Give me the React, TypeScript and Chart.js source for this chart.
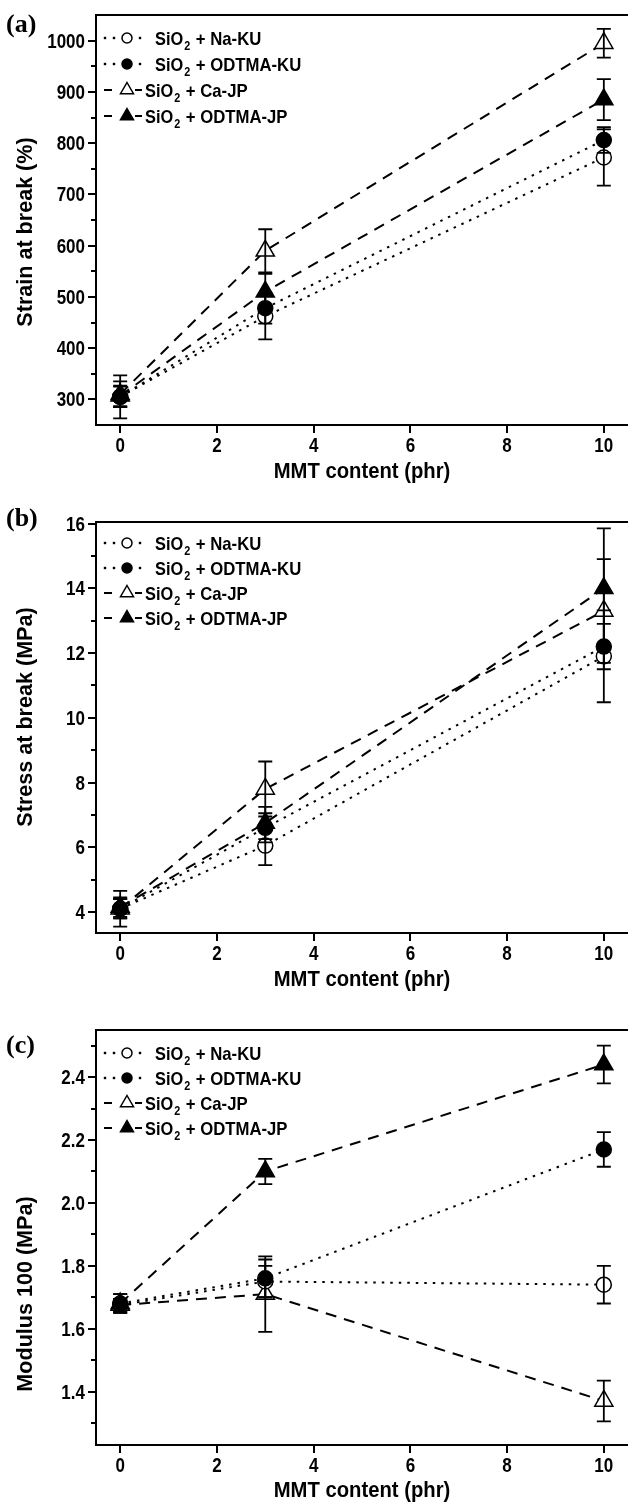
import React, { useEffect, useRef } from 'react';
import { Chart, registerables } from 'chart.js';

Chart.register(...registerables);

// ---------------- data ----------------
const mmtContent = [0, 3, 10];
const seriesNames = ['Na-KU', 'ODTMA-KU', 'Ca-JP', 'ODTMA-JP'];
const xTickValues = [0, 2, 4, 6, 8, 10];
const xTickLabels = ['0', '2', '4', '6', '8', '10'];
const xTitle = 'MMT content (phr)';

// (a) Strain at break (%)
const strainNaKU = [305, 462, 772];
const strainNaKUErr = [42, 45, 55];
const strainOdtmaKU = [305, 478, 806];
const strainOdtmaKUErr = [20, 30, 25];
const strainCaJP = [310, 590, 995];
const strainCaJPErr = [25, 42, 28];
const strainOdtmaJP = [307, 510, 885];
const strainOdtmaJPErr = [20, 35, 40];
const strainTicks = [300, 400, 500, 600, 700, 800, 900, 1000];
const strainTickLabels = ['300', '400', '500', '600', '700', '800', '900', '1000'];
const strainMinorTicks = [350, 450, 550, 650, 750, 850, 950];
const strainTitle = 'Strain at break (%)';

// (b) Stress at break (MPa)
const stressNaKU = [4.1, 6.05, 11.9];
const stressNaKUErr = [0.55, 0.6, 1.42];
const stressOdtmaKU = [4.1, 6.6, 12.2];
const stressOdtmaKUErr = [0.3, 0.45, 0.7];
const stressCaJP = [4.1, 7.8, 13.3];
const stressCaJPErr = [0.3, 0.85, 1.6];
const stressOdtmaJP = [4.15, 6.75, 14.0];
const stressOdtmaJPErr = [0.3, 0.5, 1.85];
const stressTicks = [4, 6, 8, 10, 12, 14, 16];
const stressTickLabels = ['4', '6', '8', '10', '12', '14', '16'];
const stressMinorTicks = [5, 7, 9, 11, 13, 15];
const stressTitle = 'Stress at break (MPa)';

// (c) Modulus 100 (MPa)
const modNaKU = [1.675, 1.75, 1.74];
const modNaKUErr = [0.02, 0.05, 0.06];
const modOdtmaKU = [1.68, 1.76, 2.17];
const modOdtmaKUErr = [0.03, 0.06, 0.055];
const modCaJP = [1.675, 1.71, 1.37];
const modCaJPErr = [0.02, 0.12, 0.065];
const modOdtmaJP = [1.68, 2.1, 2.44];
const modOdtmaJPErr = [0.03, 0.04, 0.06];
const modTicks = [1.4, 1.6, 1.8, 2.0, 2.2, 2.4];
const modTickLabels = ['1.4', '1.6', '1.8', '2.0', '2.2', '2.4'];
const modMinorTicks = [1.3, 1.5, 1.7, 1.9, 2.1, 2.3, 2.5];
const modTitle = 'Modulus 100 (MPa)';

// ---------------- styles ----------------
const FONT = '"Liberation Sans", Arial, sans-serif';
const SERIF = '"Liberation Serif", "Times New Roman", serif';
const DOT = [2.5, 6];
const DASH = [11, 8];
const STY = [
  { dash: DOT, shape: 'circle', open: true, order: 2 },
  { dash: DOT, shape: 'circle', open: false, order: 1 },
  { dash: DASH, shape: 'triangle', open: true, order: 3 },
  { dash: DASH, shape: 'triangle', open: false, order: 0 },
];

type Series = { values: number[]; errors: number[] };
type PanelCfg = {
  tag: string;
  top: number;
  height: number;
  padTop: number;
  xAxisHeight: number;
  min: number;
  max: number;
  ticks: number[];
  tickLabels: string[];
  minor: number[];
  yTitle: string;
  yTitleY: number;
  tagY: number;
  xTitleOffset: number;
  legendY0: number;
  legendStep: number;
  series: Series[];
};

const panels: PanelCfg[] = [
  {
    tag: '(a)', top: 0, height: 500, padTop: 15, xAxisHeight: 75,
    min: 250, max: 1050, ticks: strainTicks, tickLabels: strainTickLabels, minor: strainMinorTicks,
    yTitle: strainTitle, yTitleY: 232, tagY: 25, xTitleOffset: 47, legendY0: 23, legendStep: 26,
    series: [
      { values: strainNaKU, errors: strainNaKUErr },
      { values: strainOdtmaKU, errors: strainOdtmaKUErr },
      { values: strainCaJP, errors: strainCaJPErr },
      { values: strainOdtmaJP, errors: strainOdtmaJPErr },
    ],
  },
  {
    tag: '(b)', top: 500, height: 505, padTop: 22, xAxisHeight: 72,
    min: 3.35, max: 16.05, ticks: stressTicks, tickLabels: stressTickLabels, minor: stressMinorTicks,
    yTitle: stressTitle, yTitleY: 217, tagY: 19, xTitleOffset: 47, legendY0: 21, legendStep: 25,
    series: [
      { values: stressNaKU, errors: stressNaKUErr },
      { values: stressOdtmaKU, errors: stressOdtmaKUErr },
      { values: stressCaJP, errors: stressCaJPErr },
      { values: stressOdtmaJP, errors: stressOdtmaJPErr },
    ],
  },
  {
    tag: '(c)', top: 1005, height: 497, padTop: 25, xAxisHeight: 57,
    min: 1.23, max: 2.55, ticks: modTicks, tickLabels: modTickLabels, minor: modMinorTicks,
    yTitle: modTitle, yTitleY: 289, tagY: 41, xTitleOffset: 46, legendY0: 23, legendStep: 25,
    series: [
      { values: modNaKU, errors: modNaKUErr },
      { values: modOdtmaKU, errors: modOdtmaKUErr },
      { values: modCaJP, errors: modCaJPErr },
      { values: modOdtmaJP, errors: modOdtmaJPErr },
    ],
  },
];

// draws horizontally condensed text
function condText(
  ctx: CanvasRenderingContext2D,
  text: string,
  x: number,
  y: number,
  font: string,
  sx: number,
  align: CanvasTextAlign,
  baseline: CanvasTextBaseline = 'alphabetic',
) {
  ctx.save();
  ctx.font = font;
  ctx.textAlign = align;
  ctx.textBaseline = baseline;
  ctx.translate(x, y);
  ctx.scale(sx, 1);
  ctx.fillText(text, 0, 0);
  const w = ctx.measureText(text).width * sx;
  ctx.restore();
  return w;
}

function drawMarker(ctx: CanvasRenderingContext2D, shape: string, open: boolean, x: number, y: number, r: number) {
  ctx.save();
  ctx.setLineDash([]);
  ctx.lineWidth = 1.5;
  ctx.strokeStyle = '#000';
  ctx.fillStyle = open ? '#fff' : '#000';
  ctx.beginPath();
  if (shape === 'circle') {
    ctx.arc(x, y, r, 0, Math.PI * 2);
  } else {
    ctx.moveTo(x, y - r);
    ctx.lineTo(x + 0.866 * r, y + 0.5 * r);
    ctx.lineTo(x - 0.866 * r, y + 0.5 * r);
    ctx.closePath();
  }
  ctx.fill();
  ctx.stroke();
  ctx.restore();
}

function makeDeco(cfg: PanelCfg) {
  return {
    id: 'deco',
    afterDatasetsDraw(chart: any) {
      const { ctx } = chart;
      const xs = chart.scales.x;
      const ys = chart.scales.y;
      ctx.save();
      ctx.strokeStyle = '#000';
      ctx.lineWidth = 1.8;
      ctx.setLineDash([]);
      cfg.series.forEach((s) => {
        s.values.forEach((v, j) => {
          const e = s.errors[j];
          const px = xs.getPixelForValue(mmtContent[j]);
          const p1 = ys.getPixelForValue(v + e);
          const p2 = ys.getPixelForValue(v - e);
          ctx.beginPath();
          ctx.moveTo(px, p1);
          ctx.lineTo(px, p2);
          ctx.moveTo(px - 7, p1);
          ctx.lineTo(px + 7, p1);
          ctx.moveTo(px - 7, p2);
          ctx.lineTo(px + 7, p2);
          ctx.stroke();
        });
      });
      ctx.restore();
    },
    afterDraw(chart: any) {
      const { ctx, chartArea } = chart;
      const xs = chart.scales.x;
      const ys = chart.scales.y;
      ctx.save();
      ctx.strokeStyle = '#000';
      ctx.fillStyle = '#000';
      ctx.setLineDash([]);
      ctx.lineWidth = 2;
      // top border
      ctx.beginPath();
      ctx.moveTo(chartArea.left - 1, chartArea.top);
      ctx.lineTo(chart.width, chartArea.top);
      ctx.stroke();
      // tick marks
      ctx.beginPath();
      cfg.ticks.forEach((v) => {
        const py = Math.round(ys.getPixelForValue(v));
        ctx.moveTo(chartArea.left - 8, py);
        ctx.lineTo(chartArea.left, py);
      });
      cfg.minor.forEach((v) => {
        const py = Math.round(ys.getPixelForValue(v));
        ctx.moveTo(chartArea.left - 5, py);
        ctx.lineTo(chartArea.left, py);
      });
      xTickValues.forEach((v) => {
        const px = Math.round(xs.getPixelForValue(v));
        ctx.moveTo(px, chartArea.bottom);
        ctx.lineTo(px, chartArea.bottom + 8);
      });
      ctx.stroke();

      // tick labels
      const tickFont = `bold 20px ${FONT}`;
      cfg.ticks.forEach((v, k) => {
        const py = ys.getPixelForValue(v);
        condText(ctx, cfg.tickLabels[k], 85, py + 7, tickFont, 0.85, 'right');
      });
      xTickValues.forEach((v, k) => {
        const px = xs.getPixelForValue(v);
        condText(ctx, xTickLabels[k], px, chartArea.bottom + 27, tickFont, 0.85, 'center');
      });

      // axis titles
      const titleFont = `bold 22px ${FONT}`;
      condText(ctx, xTitle, (chartArea.left + chartArea.right) / 2, chartArea.bottom + cfg.xTitleOffset, titleFont, 0.92, 'center', 'middle');
      ctx.save();
      ctx.translate(26, cfg.yTitleY);
      ctx.rotate(-Math.PI / 2);
      condText(ctx, cfg.yTitle, 0, 0, titleFont, 0.98, 'center', 'middle');
      ctx.restore();

      // panel tag
      ctx.font = `bold 26px ${SERIF}`;
      ctx.textAlign = 'left';
      ctx.textBaseline = 'middle';
      ctx.fillText(cfg.tag, 6, cfg.tagY);

      // legend
      seriesNames.forEach((name, i) => {
        const st = STY[i];
        const cy = chartArea.top + cfg.legendY0 + i * cfg.legendStep;
        ctx.save();
        ctx.lineWidth = 2;
        if (st.dash === DOT) {
          [105, 114, 140].forEach((dx) => ctx.fillRect(dx - 1.2, cy - 1.2, 2.4, 2.4));
        } else {
          ctx.beginPath();
          ctx.moveTo(104, cy);
          ctx.lineTo(112, cy);
          ctx.moveTo(135, cy);
          ctx.lineTo(142, cy);
          ctx.stroke();
        }
        ctx.restore();
        drawMarker(ctx, st.shape, st.open, 127, cy, st.shape === 'circle' ? 5 : 7.5);
        let tx = st.dash === DOT ? 155 : 145;
        const base = cy + 7;
        const lf = `bold 19px ${FONT}`;
        tx += condText(ctx, 'SiO', tx, base, lf, 0.86, 'left') + 1;
        tx += condText(ctx, '2', tx, base + 5, `bold 12px ${FONT}`, 0.9, 'left') + 1;
        condText(ctx, ' + ' + name, tx, base, lf, 0.88, 'left');
      });
      ctx.restore();
    },
  };
}

function Panel({ cfg }: { cfg: PanelCfg }) {
  const ref = useRef<HTMLCanvasElement>(null);
  useEffect(() => {
    if (!ref.current) return;
    const chart = new Chart(ref.current, {
      type: 'line',
      data: {
        datasets: cfg.series.map((s, i) => ({
          label: 'SiO2 + ' + seriesNames[i],
          data: s.values.map((v, j) => ({ x: mmtContent[j], y: v })),
          borderColor: '#000',
          borderWidth: 2,
          borderDash: STY[i].dash,
          borderCapStyle: 'butt' as const,
          pointStyle: STY[i].shape as any,
          pointRadius: STY[i].shape === 'circle' ? 7.5 : 10.5,
          pointHoverRadius: STY[i].shape === 'circle' ? 7.5 : 10.5,
          pointBackgroundColor: STY[i].open ? '#fff' : '#000',
          pointBorderColor: '#000',
          pointBorderWidth: 1.5,
          fill: false,
          tension: 0,
          order: STY[i].order,
        })),
      },
      options: {
        responsive: false,
        animation: false,
        devicePixelRatio: 1,
        events: [],
        layout: { padding: { top: cfg.padTop, right: 10, left: 0, bottom: 0 } },
        plugins: { legend: { display: false }, tooltip: { enabled: false } },
        scales: {
          x: {
            type: 'linear',
            min: -0.5,
            max: 10.5,
            grid: { display: false },
            border: { display: true, width: 2, color: '#000' },
            ticks: { display: false },
            afterBuildTicks: (s: any) => {
              s.ticks = xTickValues.map((v) => ({ value: v }));
            },
            afterFit: (s: any) => {
              s.height = cfg.xAxisHeight;
            },
          },
          y: {
            type: 'linear',
            min: cfg.min,
            max: cfg.max,
            grid: { display: false },
            border: { display: true, width: 2, color: '#000' },
            ticks: { display: false },
            afterBuildTicks: (s: any) => {
              s.ticks = [...cfg.ticks, ...cfg.minor].sort((a, b) => a - b).map((v) => ({ value: v }));
            },
            afterFit: (s: any) => {
              s.width = 96;
            },
          },
        },
      },
      plugins: [makeDeco(cfg)],
    } as any);
    return () => chart.destroy();
  }, [cfg]);
  return (
    <canvas
      ref={ref}
      width={640}
      height={cfg.height}
      style={{ position: 'absolute', left: 0, top: cfg.top, width: 640, height: cfg.height }}
    />
  );
}

export default function App() {
  return (
    <div
      style={{
        position: 'absolute',
        left: 0,
        top: 0,
        width: 628,
        height: 1502,
        overflow: 'hidden',
        background: '#fff',
      }}
    >
      {panels.map((p) => (
        <Panel key={p.tag} cfg={p} />
      ))}
    </div>
  );
}
